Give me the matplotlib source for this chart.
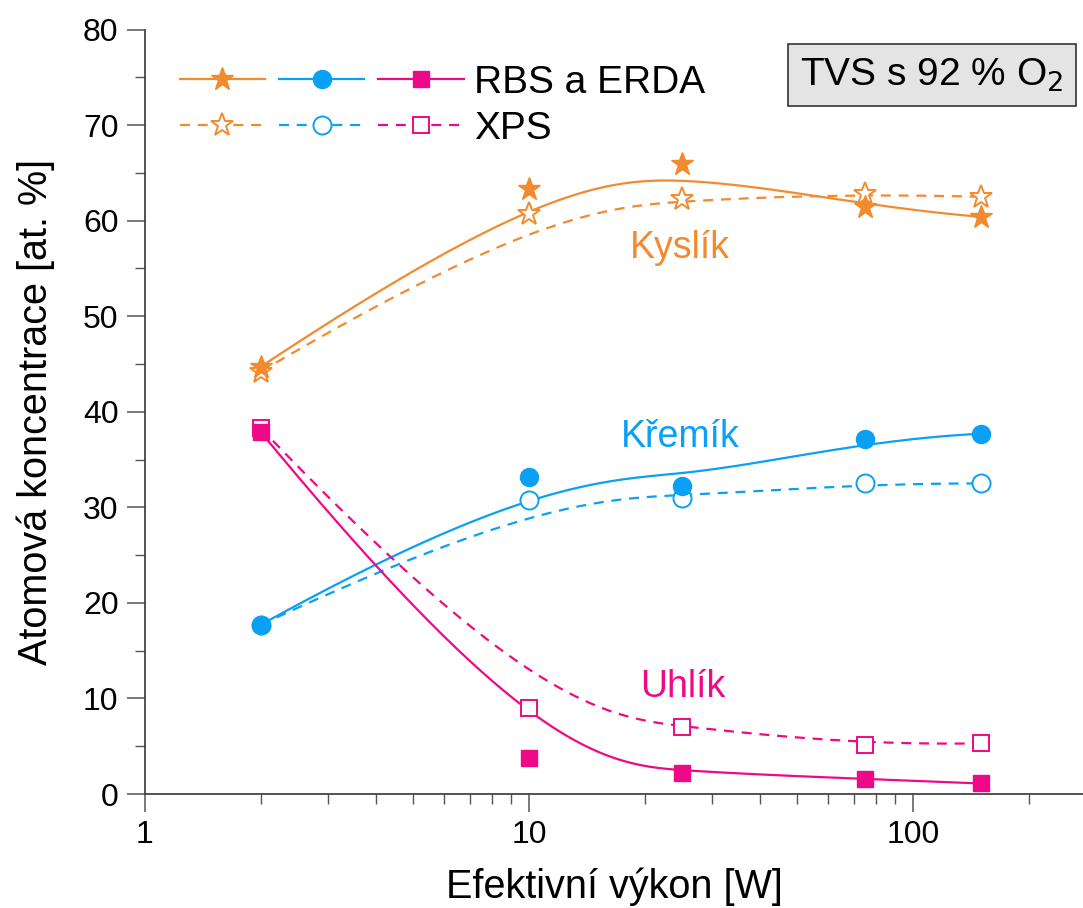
import numpy as np
import matplotlib
matplotlib.use("Agg")
import matplotlib.pyplot as plt
from matplotlib.lines import Line2D
from matplotlib.legend_handler import HandlerTuple
from matplotlib.ticker import LogLocator, MultipleLocator, NullFormatter

plt.rcParams["font.family"] = ["Liberation Sans", "DejaVu Sans"]

# --- data ------------------------------------------------------------
power = [2, 10, 25, 75, 150]            # effective power [W]
o_rbs = [44.7, 63.3, 65.9, 61.4, 60.4]  # oxygen, RBS + ERDA
o_xps = [44.2, 60.7, 62.3, 62.8, 62.5]
si_rbs = [17.7, 33.2, 32.2, 37.1, 37.7]  # silicon
si_xps = [17.7, 30.8, 31.0, 32.5, 32.5]
c_rbs = [37.9, 3.8, 2.2, 1.6, 1.1]      # carbon
c_xps = [38.3, 9.0, 7.0, 5.1, 5.3]

ORANGE = "#F28A2E"
BLUE = "#0AA0F5"
PINK = "#EE0A86"


def bspline(px, py, k=3, num=400):
    # clamped B-spline using the data points as control points (Origin style)
    px = np.asarray(px, float); py = np.asarray(py, float)
    n = len(px)
    t = np.concatenate([np.zeros(k), np.linspace(0, 1, n - k + 1), np.ones(k)])
    u = np.linspace(0, 1, num); u[-1] -= 1e-9
    N = np.array([(u >= t[i]) & (u < t[i + 1]) for i in range(len(t) - 1)], float).T
    for d in range(1, k + 1):
        Nn = np.zeros((num, len(t) - 1 - d))
        for i in range(len(t) - 1 - d):
            d1 = t[i + d] - t[i]; d2 = t[i + d + 1] - t[i + 1]
            if d1 > 0:
                Nn[:, i] += (u - t[i]) / d1 * N[:, i]
            if d2 > 0:
                Nn[:, i] += (t[i + d + 1] - u) / d2 * N[:, i + 1]
        N = Nn
    return 10 ** (N @ np.log10(px)), N @ py


W, H = 1083, 908
fig = plt.figure(figsize=(W / 100, H / 100), dpi=100)
ax = fig.add_axes([145 / W, (H - 794) / H, (W - 145) / W, (794 - 29.5) / H])

dash = (0, (4.5, 3.5))
series = [
    (o_rbs, o_xps, ORANGE, "*", 17),
    (si_rbs, si_xps, BLUE, "o", 13),
    (c_rbs, c_xps, PINK, "s", 11),
]
handles_rbs, handles_xps = [], []
for rbs, xps, col, mk, ms in series:
    sx, sy = bspline(power, xps)
    ax.plot(sx, sy, color=col, lw=1.6, ls=dash, zorder=2)
    sx, sy = bspline(power, rbs)
    ax.plot(sx, sy, color=col, lw=1.6, zorder=2)
    ax.plot(power, xps, ls="none", marker=mk, ms=ms, mfc="white", mec=col, mew=1.4, zorder=3)
    ax.plot(power, rbs, ls="none", marker=mk, ms=ms, mfc=col, mec=col, zorder=4)
    handles_rbs.append(Line2D([], [], color=col, lw=1.6, marker=mk, ms=ms, mfc=col, mec=col))
    handles_xps.append(Line2D([], [], color=col, lw=1.6, ls=dash, marker=mk, ms=ms,
                              mfc="white", mec=col, mew=1.4))

ax.legend([tuple(handles_rbs), tuple(handles_xps)], ["RBS a ERDA", "XPS"],
          handler_map={tuple: HandlerTuple(ndivide=None, pad=0.35)},
          loc="upper left", bbox_to_anchor=(0.037, 0.954), frameon=False,
          fontsize=28, handlelength=7.3, handletextpad=0.27, labelspacing=0.26,
          borderpad=0, borderaxespad=0)

ax.text(24.7, 57.1, "Kyslík", color=ORANGE, fontsize=27, ha="center", va="center")
ax.text(24.7, 37.4, "Křemík", color=BLUE, fontsize=27, ha="center", va="center")
ax.text(25.2, 11.2, "Uhlík", color=PINK, fontsize=27, ha="center", va="center")

ax.text(0.979, 0.94, "TVS s 92 % O$_2$", transform=ax.transAxes, ha="right", va="center",
        fontsize=28, bbox=dict(boxstyle="square,pad=0.32", fc="#E4E4E4", ec="#333333", lw=1.2))

ax.set_xscale("log")
ax.set_xlim(1, 10 ** ((W - 145) / 384.0))
ax.set_ylim(0, 80)
ax.xaxis.set_minor_locator(LogLocator(base=10, subs=np.arange(2, 10), numticks=20))
ax.xaxis.set_minor_formatter(NullFormatter())
ax.set_xticks([1, 10, 100])
ax.set_xticklabels(["1", "10", "100"])
ax.yaxis.set_major_locator(MultipleLocator(10))
ax.yaxis.set_minor_locator(MultipleLocator(5))

for s in ("top", "right"):
    ax.spines[s].set_visible(False)
for s in ("left", "bottom"):
    ax.spines[s].set_color("#444444")
    ax.spines[s].set_linewidth(1.3)
ax.tick_params(which="major", direction="out", length=13, width=1.1, color="#555555",
               labelsize=23, pad=6)
ax.tick_params(which="minor", direction="out", length=7, width=1.0, color="#555555")

ax.set_xlabel("Efektivní výkon [W]", fontsize=28.5, labelpad=12)
ax.set_ylabel("Atomová koncentrace [at. %]", fontsize=28.5, labelpad=20)

fig.savefig("out.png", dpi=100)
